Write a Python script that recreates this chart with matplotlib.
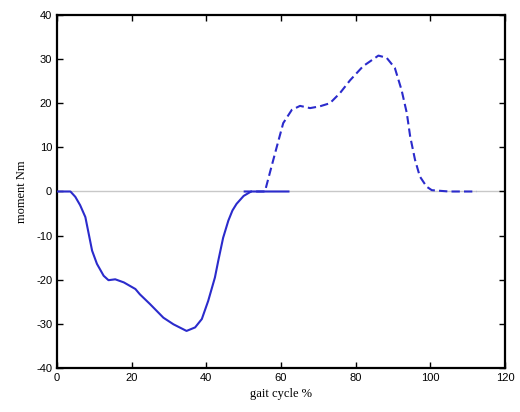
import matplotlib
matplotlib.use('Agg')
import matplotlib.pyplot as plt

plt.rcParams['axes.unicode_minus'] = False

# moment over the gait cycle, measured (solid) and second phase (dashed)
gait_solid = [0, 2, 3.6, 4.9, 6.2, 7.6, 8.5, 9.4, 10.7, 12.5, 13.8, 15.6, 17.9,
              21, 22.2, 24.9, 28.5, 31.2, 34.7, 37, 38.8, 40.5, 42.3, 43.2,
              44.5, 45.9, 47, 48.1, 50, 52, 62]
moment_solid = [0, 0, 0, -1.2, -3.1, -5.8, -9.6, -13.4, -16.4, -19.1, -20.1,
                -19.9, -20.6, -22.1, -23.3, -25.5, -28.6, -30.1, -31.6, -30.8,
                -28.9, -24.8, -19.5, -15.7, -10.5, -6.6, -4.3, -2.8, -1, 0, 0]

gait_dashed = [50, 54, 55.7, 57.1, 58.9, 60.6, 62.9, 65.1, 67.8, 70.4, 73.1,
               75.8, 78.5, 82, 86.1, 88.3, 90.5, 92.3, 93.7, 94.6, 95.9, 97.2,
               99, 100.4, 105, 112.4]
moment_dashed = [0, 0, 0, 4.5, 10.2, 15.5, 18.5, 19.4, 18.9, 19.3, 20, 22.3,
                 25.2, 28.4, 30.8, 30.3, 28, 23, 17.8, 12.5, 7.2, 3.4, 1.1, 0.3,
                 0, 0]

xticks = [0, 20, 40, 60, 80, 100, 120]
yticks = [-40, -30, -20, -10, 0, 10, 20, 30, 40]

line_color = '#2b2bcc'

fig = plt.figure(figsize=(5.2, 4.12), dpi=100)
ax = fig.add_axes([0.1096, 0.1068, 0.8615, 0.8568])

ax.axhline(0, color='#c8c8c8', linewidth=1.0, zorder=1)
ax.plot(gait_solid, moment_solid, '-', color=line_color, linewidth=1.5, zorder=3)
ax.plot(gait_dashed, moment_dashed, '--', color=line_color, linewidth=1.5,
        dashes=(4, 2), zorder=3)

ax.set_xlim(0, 120)
ax.set_ylim(-40, 40)
ax.set_xticks(xticks)
ax.set_yticks(yticks)
ax.tick_params(direction='in', top=True, right=True, length=4, width=1,
               labelsize=8)
for lbl in ax.get_xticklabels() + ax.get_yticklabels():
    lbl.set_family('Liberation Sans')
for sp in ax.spines.values():
    sp.set_linewidth(1.6)

ax.set_xlabel('gait cycle %', family='Liberation Serif', fontsize=9, labelpad=4)
ax.set_ylabel('moment Nm', family='Liberation Serif', fontsize=9, labelpad=6)

fig.savefig('out.png', dpi=100)
